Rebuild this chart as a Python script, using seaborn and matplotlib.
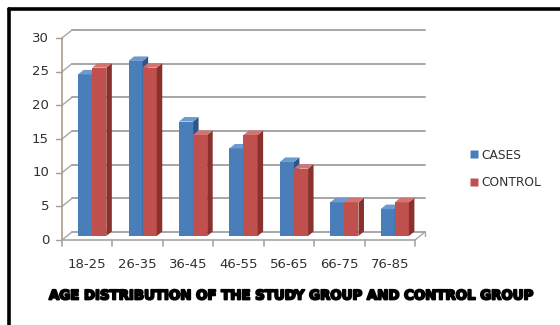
import numpy as np
import pandas as pd
import matplotlib
matplotlib.use("Agg")
import matplotlib.pyplot as plt
import matplotlib.patheffects as pe
from matplotlib.patches import Polygon
from matplotlib.lines import Line2D
import seaborn as sns

age_groups = ["18-25", "26-35", "36-45", "46-55", "56-65", "66-75", "76-85"]
cases = [24, 26, 17, 13, 11, 5, 4]
control = [25, 25, 15, 15, 10, 5, 5]
series_names = ["CASES", "CONTROL"]
y_ticks = [0, 5, 10, 15, 20, 25, 30]
title = "AGE DISTRIBUTION OF THE STUDY GROUP AND CONTROL GROUP"

front_colors = {"CASES": "#4A7EBB", "CONTROL": "#C0504D"}
side_colors = {"CASES": "#2F5486", "CONTROL": "#8A302D"}
top_colors = {"CASES": "#6F9AD0", "CONTROL": "#D27572"}

df = pd.DataFrame({
    "age": age_groups * 2,
    "count": cases + control,
    "group": ["CASES"] * len(cases) + ["CONTROL"] * len(control),
})

sns.set_theme(style="white")
plt.rcParams["font.family"] = ["DejaVu Sans"]

W, H, DPI = 560, 325, 100
fig = plt.figure(figsize=(W / DPI, H / DPI), dpi=DPI)
fig.patch.set_facecolor("white")

# plot area in pixels (front plane)
x0_px, x1_px, ybot_px, ytop_px = 62, 415, 240, 38
ax = fig.add_axes([x0_px / W, 1 - ybot_px / H, (x1_px - x0_px) / W, (ybot_px - ytop_px) / H])
ax.set_facecolor("none")

sns.barplot(data=df, x="age", y="count", hue="group", hue_order=series_names,
            palette=front_colors, width=0.56, gap=0, saturation=1,
            edgecolor="none", linewidth=0, legend=False, ax=ax)

ax.set_xlim(-0.5, len(age_groups) - 0.5)
ax.set_ylim(0, 30)

# pixel -> data conversions
px_x = len(age_groups) / (x1_px - x0_px)
px_y = 30 / (ybot_px - ytop_px)
wall_dx, wall_dy = 10 * px_x, 8 * px_y        # depth of the back wall
bar_dx, bar_dy = 5.5 * px_x, 4.5 * px_y       # depth of each bar
shift_x, shift_y = 5 * px_x, 4 * px_y         # bars sit mid-depth

grid_c = "#A6A6A6"
axis_c = "#A89C8E"

# back-wall gridlines and connectors to the front axis
xa, xb = -0.5, len(age_groups) - 0.5
for t in y_ticks:
    ax.plot([xa + wall_dx, xb + wall_dx], [t + wall_dy, t + wall_dy],
            color=grid_c, lw=1.4, clip_on=False, zorder=0.5)
    ax.plot([xa, xa + wall_dx], [t, t + wall_dy], color=grid_c, lw=1.0,
            clip_on=False, zorder=0.5)

# floor outline
ax.plot([xa, xb], [0, 0], color=grid_c, lw=1.2, clip_on=False, zorder=0.6)
ax.plot([xb, xb + wall_dx], [0, wall_dy], color=grid_c, lw=1.0, clip_on=False, zorder=0.6)
ax.plot([xb + wall_dx, xb + wall_dx], [wall_dy, wall_dy - 3.6 * px_y],
        color=grid_c, lw=1.0, clip_on=False, zorder=0.6)

# front vertical axis with ticks
ax.plot([xa, xa], [0, 30], color=axis_c, lw=1.2, clip_on=False, zorder=3)
for t in y_ticks:
    ax.plot([xa - 6 * px_x, xa], [t, t], color=axis_c, lw=1.0, clip_on=False, zorder=3)
    ax.text(xa - 13 * px_x, t, str(t), ha="right", va="center",
            fontsize=9.5, color="#303030")

# category boundary ticks under the floor
for b in np.arange(-0.5, len(age_groups), 1.0):
    ax.plot([b, b], [0, -6 * px_y], color=grid_c, lw=1.2, clip_on=False, zorder=3)

for i, lab in enumerate(age_groups):
    ax.text(i, -25 * px_y, lab, ha="center", va="center", fontsize=9.5, color="#303030")

# extrude each bar into a box
n = len(age_groups)
for k, p in enumerate(ax.patches):
    name = series_names[k // n]
    base_z = 2 + (k // n)
    x = p.get_x() + shift_x
    w = p.get_width()
    h = p.get_height()
    p.set_x(x)
    p.set_y(shift_y)
    p.set_zorder(base_z)
    x1 = x + w
    y0, y1 = shift_y, shift_y + h
    side = Polygon([(x1, y0), (x1 + bar_dx, y0 + bar_dy), (x1 + bar_dx, y1 + bar_dy), (x1, y1)],
                   closed=True, facecolor=side_colors[name], edgecolor="none",
                   zorder=base_z + 0.1, clip_on=False)
    top = Polygon([(x, y1), (x1, y1), (x1 + bar_dx, y1 + bar_dy), (x + bar_dx, y1 + bar_dy)],
                  closed=True, facecolor=top_colors[name], edgecolor="none",
                  zorder=base_z + 0.1, clip_on=False)
    ax.add_patch(side)
    ax.add_patch(top)

ax.set_xticks([])
ax.set_yticks([])
ax.set_xlabel("")
ax.set_ylabel("")
for s in ax.spines.values():
    s.set_visible(False)

# legend
handles = [Line2D([], [], marker="s", linestyle="none", markersize=6,
                  markerfacecolor=front_colors[s], markeredgecolor="none") for s in series_names]
fig.legend(handles, series_names, loc="center left",
           bbox_to_anchor=(457 / W, 1 - 169 / H), frameon=False,
           fontsize=8.8, handletextpad=0.1, labelspacing=1.2, handlelength=1.0,
           labelcolor="#303030")

# caption below the chart
fig.text(292 / W, 1 - 296 / H, title, ha="center", va="center",
         fontsize=9.6, fontweight="bold", color="black",
         path_effects=[pe.withStroke(linewidth=1.3, foreground="black")])

# frame lines along the top and left edges
fig.add_artist(Line2D([8.5 / W, 1.0], [1 - 8.5 / H, 1 - 8.5 / H], color="black", lw=2.6))
fig.add_artist(Line2D([8.5 / W, 8.5 / W], [0, 1 - 8.5 / H], color="black", lw=2.6))

fig.savefig("out.png", dpi=DPI, facecolor="white")
